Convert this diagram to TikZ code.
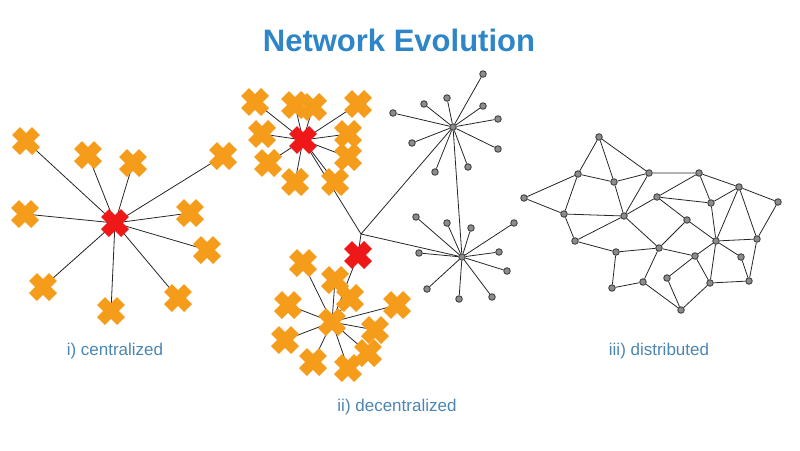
\documentclass[tikz,border=0pt]{standalone}
\usepackage{fontspec}
\setmainfont{Liberation Sans}
\usepackage{xcolor}
\usepackage{tikz}
\usetikzlibrary{shapes.misc, backgrounds}

\definecolor{titleblue}{HTML}{2E86C8}
\definecolor{labelblue}{HTML}{4A86B4}
\definecolor{crossorange}{HTML}{F59C1A}
\definecolor{crossred}{HTML}{EE1818}
\definecolor{dotgray}{HTML}{8C8C8C}

\tikzset{
  ox/.style={cross out, draw=crossorange, line width=11pt, minimum size=20pt, inner sep=0pt, outer sep=0pt},
  rx/.style={ox, draw=crossred},
  gdot/.style={circle, draw=black!75, fill=dotgray, line width=0.9pt, minimum size=6.5pt, inner sep=0pt},
  link/.style={draw=black!85, line width=0.8pt},
  lbl/.style={text=labelblue, font=\fontsize{17}{20}\selectfont}
}

\begin{document}
\begin{tikzpicture}[x=1pt, y=-1pt]
\useasboundingbox (0,0) rectangle (800,450);
\node[text=titleblue, font=\bfseries\fontsize{31}{36}\selectfont] (title) at (399,40) {Network Evolution};

% i) centralized
\node[rx] (c0) at (115,223) {};
\node[ox] (c1) at (26,141) {};
\node[ox] (c2) at (88,155) {};
\node[ox] (c3) at (133,163) {};
\node[ox] (c4) at (223,156) {};
\node[ox] (c5) at (25,214) {};
\node[ox] (c6) at (190,213) {};
\node[ox] (c7) at (207,250) {};
\node[ox] (c8) at (43,287) {};
\node[ox] (c9) at (111,311) {};
\node[ox] (c10) at (178,298) {};
\node[lbl] (lcen) at (115,351) {i) centralized};

% ii) decentralized, upper group
\node[ox] (t1) at (255,102) {};
\node[ox] (t2) at (295,105) {};
\node[ox] (t3) at (313,107) {};
\node[ox] (t4) at (358,104) {};
\node[ox] (t5) at (262,134) {};
\node[ox] (t6) at (348,134) {};
\node[ox] (t7) at (348,157) {};
\node[ox] (t8) at (268,163) {};
\node[ox] (t9) at (295,182) {};
\node[ox] (t10) at (335,182) {};
\node[rx] (t0) at (303,140) {};

% ii) decentralized, lower group
\node[ox] (bh) at (332,322) {};
\node[ox] (b1) at (303,263) {};
\node[ox] (b2) at (335,280) {};
\node[ox] (b3) at (350,298) {};
\node[ox] (b4) at (288,305) {};
\node[ox] (b5) at (397,305) {};
\node[ox] (b6) at (285,340) {};
\node[ox] (b7) at (375,330) {};
\node[ox] (b8) at (368,353) {};
\node[ox] (b9) at (313,362) {};
\node[ox] (b10) at (348,368) {};
\node[rx] (b0) at (358,255) {};
\coordinate (junc) at (361,234);

% ii) decentralized, two stars
\node[gdot] (s1) at (453,127) {};
\node[gdot] (s1a) at (483,74) {};
\node[gdot] (s1b) at (447,98) {};
\node[gdot] (s1c) at (424,104) {};
\node[gdot] (s1d) at (483,106) {};
\node[gdot] (s1e) at (393,113) {};
\node[gdot] (s1f) at (498,119) {};
\node[gdot] (s1g) at (412,143) {};
\node[gdot] (s1h) at (498,149) {};
\node[gdot] (s1i) at (435,172) {};
\node[gdot] (s1j) at (468,167) {};
\node[gdot] (s2) at (462,257) {};
\node[gdot] (s2a) at (416,217) {};
\node[gdot] (s2b) at (447,223) {};
\node[gdot] (s2c) at (471,228) {};
\node[gdot] (s2d) at (514,223) {};
\node[gdot] (s2e) at (419,253) {};
\node[gdot] (s2f) at (499,252) {};
\node[gdot] (s2g) at (507,271) {};
\node[gdot] (s2h) at (427,289) {};
\node[gdot] (s2i) at (459,299) {};
\node[gdot] (s2j) at (492,297) {};
\node[lbl] (ldec) at (397,407) {ii) decentralized};

% iii) distributed
\node[gdot] (dA) at (599,137) {};
\node[gdot] (dB) at (578,174) {};
\node[gdot] (dC) at (614,182) {};
\node[gdot] (dD) at (649,173) {};
\node[gdot] (dE) at (699,173) {};
\node[gdot] (dF) at (739,187) {};
\node[gdot] (dG) at (778,202) {};
\node[gdot] (dH) at (524,198) {};
\node[gdot] (dI) at (657,197) {};
\node[gdot] (dJ) at (711,203) {};
\node[gdot] (dK) at (564,214) {};
\node[gdot] (dL) at (624,216) {};
\node[gdot] (dM) at (687,220) {};
\node[gdot] (dN) at (575,241) {};
\node[gdot] (dO) at (716,241) {};
\node[gdot] (dP) at (757,239) {};
\node[gdot] (dQ) at (616,252) {};
\node[gdot] (dR) at (659,248) {};
\node[gdot] (dS) at (695,256) {};
\node[gdot] (dT) at (741,257) {};
\node[gdot] (dU) at (667,278) {};
\node[gdot] (dV) at (643,282) {};
\node[gdot] (dW) at (612,288) {};
\node[gdot] (dX) at (710,283) {};
\node[gdot] (dY) at (749,281) {};
\node[gdot] (dZ) at (681,310) {};
\node[lbl] (ldis) at (659,351) {iii) distributed};

\begin{scope}[on background layer]
\draw[link] (c0.center) -- (c1.center) (c0.center) -- (c2.center) (c0.center) -- (c3.center)
  (c0.center) -- (c4.center) (c0.center) -- (c5.center) (c0.center) -- (c6.center)
  (c0.center) -- (c7.center) (c0.center) -- (c8.center) (c0.center) -- (c9.center)
  (c0.center) -- (c10.center);
\draw[link] (t0.center) -- (t1.center) (t0.center) -- (t2.center) (t0.center) -- (t3.center)
  (t0.center) -- (t4.center) (t0.center) -- (t5.center) (t0.center) -- (t6.center)
  (t0.center) -- (t7.center) (t0.center) -- (t8.center) (t0.center) -- (t9.center)
  (t0.center) -- (t10.center);
\draw[link] (bh.center) -- (b1.center) (bh.center) -- (b2.center) (bh.center) -- (b3.center)
  (bh.center) -- (b4.center) (bh.center) -- (b5.center) (bh.center) -- (b6.center)
  (bh.center) -- (b7.center) (bh.center) -- (b8.center) (bh.center) -- (b9.center)
  (bh.center) -- (b10.center) (bh.center) -- (b0.center);
\draw[link] (t0.center) -- (junc) -- (b0.center);
\draw[link] (junc) -- (s1) (junc) -- (s2) (s1) -- (s2);
\draw[link] (s1) -- (s1a) (s1) -- (s1b) (s1) -- (s1c) (s1) -- (s1d) (s1) -- (s1e)
  (s1) -- (s1f) (s1) -- (s1g) (s1) -- (s1h) (s1) -- (s1i) (s1) -- (s1j);
\draw[link] (s2) -- (s2a) (s2) -- (s2b) (s2) -- (s2c) (s2) -- (s2d) (s2) -- (s2e)
  (s2) -- (s2f) (s2) -- (s2g) (s2) -- (s2h) (s2) -- (s2i) (s2) -- (s2j);
\draw[link] (dA) -- (dB) (dA) -- (dC) (dA) -- (dD) (dB) -- (dC) (dB) -- (dH) (dB) -- (dK)
  (dC) -- (dD) (dC) -- (dL) (dD) -- (dL) (dD) -- (dE) (dE) -- (dI) (dE) -- (dJ)
  (dE) -- (dF) (dF) -- (dJ) (dF) -- (dG) (dF) -- (dO) (dF) -- (dP) (dG) -- (dP)
  (dH) -- (dK) (dI) -- (dJ) (dI) -- (dL) (dI) -- (dM) (dK) -- (dL) (dK) -- (dN)
  (dL) -- (dN) (dL) -- (dR) (dM) -- (dR) (dM) -- (dO) (dJ) -- (dO) (dN) -- (dQ)
  (dO) -- (dP) (dO) -- (dS) (dO) -- (dT) (dO) -- (dX) (dP) -- (dY) (dQ) -- (dR)
  (dQ) -- (dW) (dR) -- (dS) (dR) -- (dV) (dS) -- (dU) (dS) -- (dX) (dT) -- (dY)
  (dU) -- (dZ) (dV) -- (dW) (dV) -- (dZ) (dX) -- (dY) (dX) -- (dZ);
\end{scope}
\end{tikzpicture}
\end{document}
